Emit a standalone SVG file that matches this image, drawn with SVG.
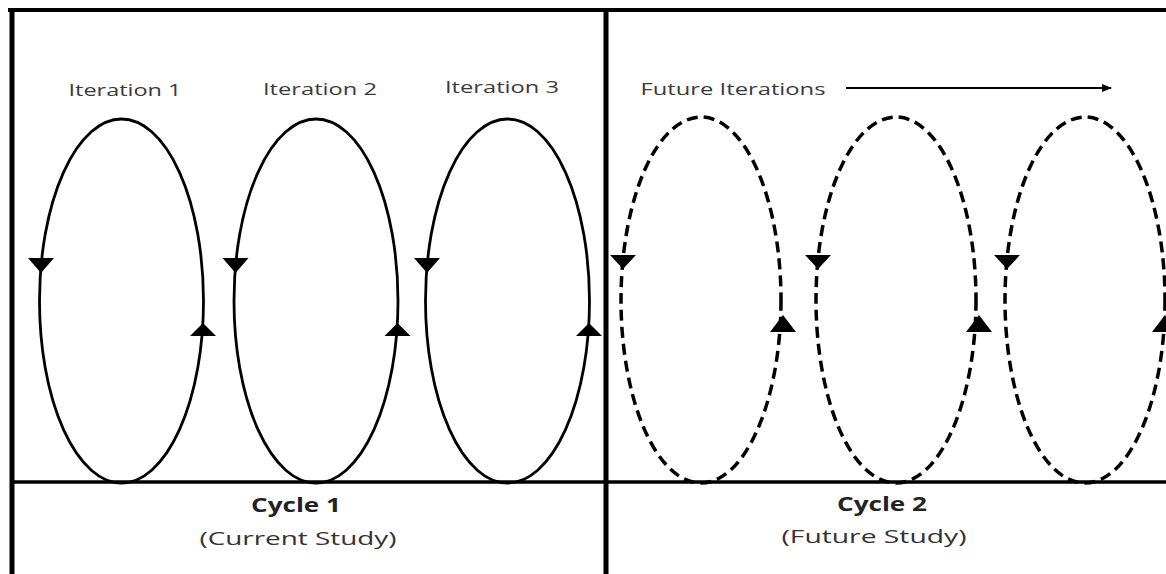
<svg xmlns="http://www.w3.org/2000/svg" width="1166" height="574" viewBox="0 0 1166 574">
<style>
.frame{stroke:#000;fill:none}
.loop{fill:none;stroke:#000;stroke-width:2.8}
.dash{fill:none;stroke:#000;stroke-width:3.5;stroke-dasharray:11 6}
.head{fill:#000;stroke:none}
.lbl{font-family:"Open Sans","Liberation Sans",sans-serif;font-size:16px;fill:#3a3a3a;text-anchor:middle}
.cyc{font-family:"Open Sans","Liberation Sans",sans-serif;font-size:19px;font-weight:bold;fill:#222;text-anchor:middle}
.sub{font-family:"Open Sans","Liberation Sans",sans-serif;font-size:18px;fill:#333;text-anchor:middle}
</style>
<defs>
<marker id="ah" viewBox="0 0 10 10" refX="9" refY="5" markerWidth="5" markerHeight="5" orient="auto" markerUnits="strokeWidth">
<path d="M0,1 L10,5 L0,9 z" fill="#000"/>
</marker>
</defs>
<rect width="1166" height="574" fill="#fff"/>
<g id="frame">
<line class="frame" x1="8" y1="10" x2="1166" y2="10" stroke-width="4"/>
<line class="frame" x1="12" y1="8" x2="12" y2="574" stroke-width="5"/>
<line class="frame" x1="606" y1="8" x2="606" y2="574" stroke-width="5"/>
<line class="frame" x1="12" y1="482" x2="1166" y2="482" stroke-width="3.5"/>
</g>
<g id="iteration1">
<ellipse class="loop" cx="121.5" cy="301" rx="82" ry="182"/>
<polygon class="head" points="28,258 54,258 41,273"/>
<polygon class="head" points="190,336 216,336 203,323"/>
<text class="lbl" x="125" y="96" textLength="113" lengthAdjust="spacingAndGlyphs">Iteration 1</text>
</g>
<g id="iteration2">
<ellipse class="loop" cx="316" cy="301" rx="82" ry="182"/>
<polygon class="head" points="222.5,258 248.5,258 235.5,273"/>
<polygon class="head" points="384.5,336 410.5,336 397.5,323"/>
<text class="lbl" x="320" y="95" textLength="114" lengthAdjust="spacingAndGlyphs">Iteration 2</text>
</g>
<g id="iteration3">
<ellipse class="loop" cx="507.5" cy="301" rx="82" ry="182"/>
<polygon class="head" points="414,258 440,258 427,273"/>
<polygon class="head" points="576,336 602,336 589,323"/>
<text class="lbl" x="502" y="93" textLength="114" lengthAdjust="spacingAndGlyphs">Iteration 3</text>
</g>
<g id="future1">
<ellipse class="dash" cx="701" cy="300" rx="80" ry="183"/>
<polygon class="head" points="610,255 636,255 623,269"/>
<polygon class="head" points="770,332 796,332 783,315"/>
</g>
<g id="future2">
<ellipse class="dash" cx="896" cy="300" rx="80" ry="183"/>
<polygon class="head" points="805,255 831,255 818,269"/>
<polygon class="head" points="966,332 992,332 979,315"/>
</g>
<g id="future3">
<ellipse class="dash" cx="1085" cy="300" rx="80" ry="183"/>
<polygon class="head" points="994,255 1020,255 1007,269"/>
<polygon class="head" points="1152,332 1178,332 1165,315"/>
</g>
<g id="future-label">
<text class="lbl" x="733" y="95" textLength="185" lengthAdjust="spacingAndGlyphs">Future Iterations</text>
</g>
<g id="connectors">
<line x1="846" y1="88" x2="1111" y2="88" stroke="#000" stroke-width="2" marker-end="url(#ah)"/>
</g>
<g id="cycle1">
<text class="cyc" x="296" y="512" textLength="90" lengthAdjust="spacingAndGlyphs">Cycle 1</text>
<text class="sub" x="298" y="545" textLength="197" lengthAdjust="spacingAndGlyphs">(Current Study)</text>
</g>
<g id="cycle2">
<text class="cyc" x="882" y="511" textLength="90" lengthAdjust="spacingAndGlyphs">Cycle 2</text>
<text class="sub" x="874" y="543" textLength="185" lengthAdjust="spacingAndGlyphs">(Future Study)</text>
</g>
</svg>
